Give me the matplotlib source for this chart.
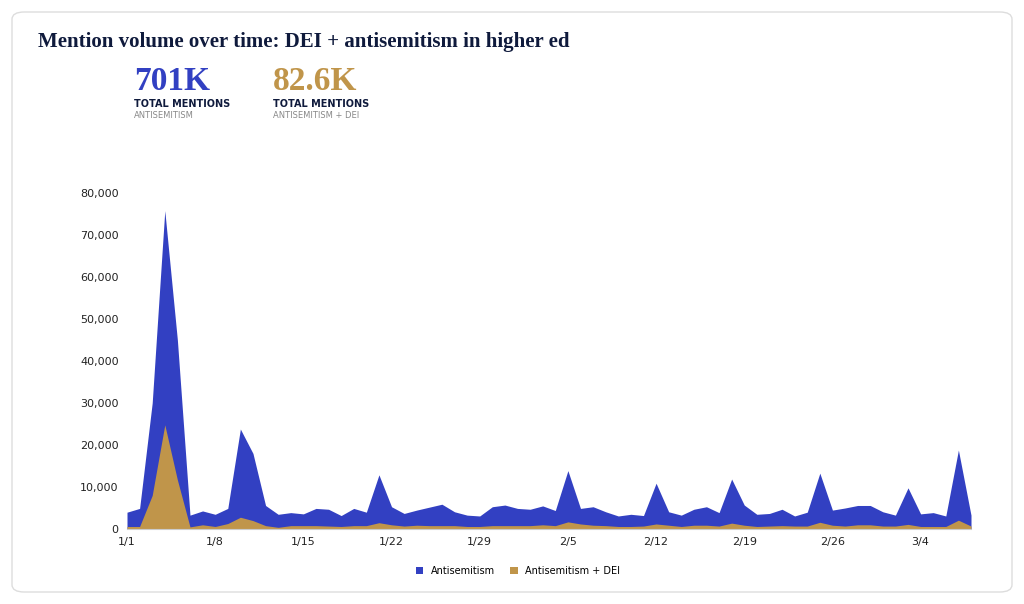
import matplotlib
matplotlib.use("Agg")
import matplotlib.pyplot as plt
from matplotlib.patches import FancyBboxPatch
import numpy as np

antisemitism = [4000,4900,30000,75800,45000,3300,4300,3500,4900,23800,18000,5600,3500,3900,3600,4900,4700,3200,4900,4000,
                12900,5300,3700,4500,5200,5900,4100,3300,3100,5300,5700,4900,4700,5500,4400,13900,4900,5300,4100,3100,
                3500,3200,10900,4100,3300,4700,5300,3900,11900,5700,3500,3700,4700,3100,4000,13300,4500,5000,5600,5600,
                4100,3300,9800,3600,3900,3100,18800,3300]
anti_dei = [600,600,8000,24800,11700,500,1000,600,1300,2800,2000,800,400,800,800,800,700,600,800,800,
            1500,1000,700,900,800,800,800,600,600,800,800,800,800,1000,800,1700,1200,900,800,600,
            600,700,1200,900,600,900,900,700,1400,900,600,700,800,700,700,1600,900,700,1000,1000,
            700,700,1100,600,600,600,2100,700]
tick_labels = ["1/1","1/8","1/15","1/22","1/29","2/5","2/12","2/19","2/26","3/4"]
yticks = [0,10000,20000,30000,40000,50000,60000,70000,80000]

blue = "#3240C2"
gold = "#C0954A"
navy = "#0F1A3C"
serif = "Liberation Serif"

fig = plt.figure(figsize=(10.24,6.04), dpi=100)
fig.patches.append(FancyBboxPatch((12/1024, 12/604), 1000/1024, 580/604,
    boxstyle="round,pad=0,rounding_size=0.012", transform=fig.transFigure,
    facecolor="white", edgecolor="#DDDDDD", linewidth=1, zorder=-10))

ax = fig.add_axes([127/1024, 1-529/604, (971-127)/1024, (529-193)/604])
ax.patch.set_alpha(0)
x = np.arange(len(antisemitism))
ax.fill_between(x, antisemitism, color=blue, linewidth=0, label="Antisemitism")
ax.fill_between(x, anti_dei, color=gold, linewidth=0, label="Antisemitism + DEI")
ax.set_xlim(0, len(x)-1)
ax.set_ylim(0, 80000)
ax.set_yticks(yticks)
ax.set_yticklabels([f"{v:,}" for v in yticks], fontsize=8, color="#222222")
ax.set_xticks(np.arange(0, len(x), 7))
ax.set_xticklabels(tick_labels, fontsize=8, color="#222222")
for s in ["top","right","left"]:
    ax.spines[s].set_visible(False)
ax.spines["bottom"].set_color("#CCCCCC")
ax.tick_params(axis="y", length=0, pad=6)
ax.tick_params(axis="x", length=0, pad=6)

fig.text(38/1024, 1-42/604, "Mention volume over time: DEI + antisemitism in higher ed",
         fontsize=15, fontweight="bold", family=serif, color=navy, va="center")
fig.text(134/1024, 1-81/604, "701K", fontsize=24, fontweight="bold", family=serif, color=blue, va="center")
fig.text(134/1024, 1-104/604, "TOTAL MENTIONS", fontsize=7, fontweight="bold", color=navy, va="center")
fig.text(134/1024, 1-115/604, "ANTISEMITISM", fontsize=6, color="#888888", va="center")
fig.text(273/1024, 1-81/604, "82.6K", fontsize=24, fontweight="bold", family=serif, color=gold, va="center")
fig.text(273/1024, 1-104/604, "TOTAL MENTIONS", fontsize=7, fontweight="bold", color=navy, va="center")
fig.text(273/1024, 1-115/604, "ANTISEMITISM + DEI", fontsize=6, color="#888888", va="center")

fig.legend(loc="center", bbox_to_anchor=(518/1024, 1-571/604), ncol=2, frameon=False,
           fontsize=7, handlelength=0.8, handleheight=0.8, columnspacing=1.5)
fig.savefig("out.png", dpi=100)
